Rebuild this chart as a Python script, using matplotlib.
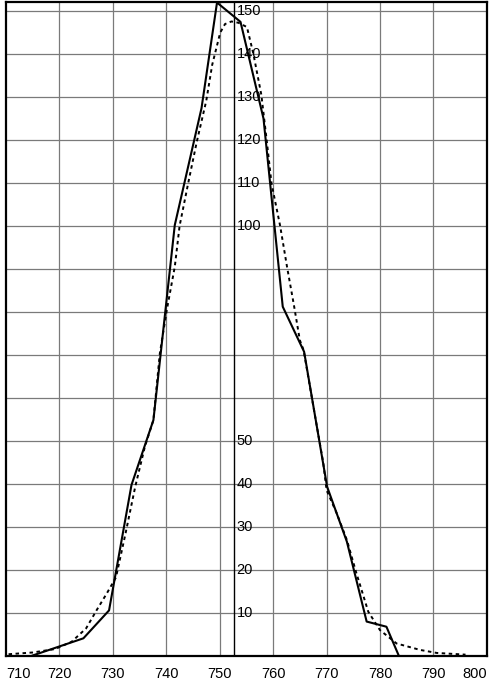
import numpy as np
import matplotlib.pyplot as plt

plt.rcParams['font.family'] = ['Liberation Sans', 'DejaVu Sans']

# observed frequencies (solid polygon)
obs_x = [715.0, 724.5, 729.3, 733.5, 737.6, 741.6, 746.6, 749.5, 753.9,
         758.2, 761.8, 765.8, 770.1, 773.8, 777.5, 781.2, 783.5]
obs_y = [0, 4.0, 10.5, 39.7, 54.8, 100.2, 127.4, 152.0, 147.5,
         125.0, 81.2, 70.7, 39.3, 26.5, 7.9, 6.7, 0]

# fitted curve (dashed)
fit_x = [710.5, 715.0, 719.2, 722.3, 725.0, 727.0, 728.9, 730.6, 732.4,
         734.2, 736.0, 737.6, 738.8, 740.1, 741.6, 742.5, 744.1, 745.7,
         747.5, 748.6, 749.3, 750.1, 751.0, 752.2, 753.5, 755.1, 756.3,
         757.8, 758.8, 759.7, 761.3, 762.6, 763.9, 765.0, 765.7, 767.6,
         769.4, 770.0, 771.9, 773.8, 775.5, 777.8, 780.0, 783.1, 787.5,
         790.6, 796.0]
fit_y = [0.3, 0.7, 1.5, 3.2, 6.3, 10.6, 14.5, 18.2, 28.5,
         39.3, 48.6, 54.8, 70.3, 80.4, 90.5, 100.0, 109.9, 119.5,
         129.2, 137.5, 141.0, 145.0, 147.0, 147.6, 147.3, 146.3, 140.1,
         130.5, 119.9, 109.9, 100.1, 90.5, 81.5, 73.4, 71.1, 57.5,
         44.7, 38.5, 33.1, 26.9, 19.5, 10.2, 5.9, 2.8, 1.3,
         0.6, 0.2]

x_ticks = list(range(710, 801, 10))
y_labels = [10, 20, 30, 40, 50, 100, 110, 120, 130, 140, 150]
axis_x = 752.6

fig = plt.figure(figsize=(4.91, 6.8), dpi=100)
ax = fig.add_axes([5.9 / 491, 24.5 / 680, 481 / 491, 653.8 / 680])

ax.set_xlim(710, 800)
ax.set_ylim(0, 152.2)

# grid
for gx in x_ticks[1:-1]:
    ax.axvline(gx, color='#7a7a7a', lw=0.9, zorder=1)
for gy in range(10, 151, 10):
    ax.axhline(gy, color='#7a7a7a', lw=0.9, zorder=1)

ax.axvline(axis_x, color='black', lw=1.0, zorder=2)

ax.plot(fit_x, fit_y, color='black', lw=1.4, linestyle=(0, (1.8, 1.8)), zorder=3)
ax.plot(obs_x, obs_y, color='black', lw=1.5, zorder=4)

for v in y_labels:
    ax.text(axis_x + 0.55, v, str(v), fontsize=10.5, ha='left', va='center',
            zorder=5)

ax.set_xticks(x_ticks)
ax.set_xticklabels([str(t) for t in x_ticks], fontsize=10.5)
ax.set_yticks([])
ax.tick_params(axis='x', length=0, pad=8.5)
labels = ax.get_xticklabels()
labels[0].set_ha('left')
labels[0].set_x(709.3)
labels[-1].set_ha('right')

for s in ax.spines.values():
    s.set_linewidth(1.6)
    s.set_color('black')

fig.savefig('out.png', dpi=100)
